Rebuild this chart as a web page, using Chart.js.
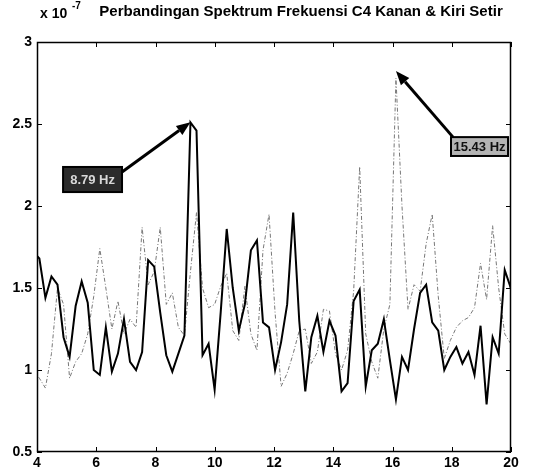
<!DOCTYPE html>
<html>
<head>
<meta charset="utf-8">
<style>
  html, body { margin: 0; padding: 0; background: #fff; }
  #wrap { width: 550px; height: 473px; position: relative; }
</style>
</head>
<body>
<div id="wrap"><canvas id="spektrum"></canvas></div>
<script src="https://cdn.jsdelivr.net/npm/chart.js@4"></script>
<script>
// FFT bins shown on the plot (bin 19 .. 99) and the bin width in Hz
const firstBin = 19;
const binHz = 0.204;

// magnitude in units of 1e-7, one value per bin
const spektrumKanan = [
  1.72, 1.68, 1.44, 1.57, 1.52, 1.20, 1.08, 1.39, 1.54, 1.41,
  1.00, 0.97, 1.26, 0.99, 1.10, 1.31, 1.05, 1.00, 1.11, 1.67,
  1.63, 1.35, 1.09, 0.99, 1.10, 1.21, 2.51, 2.46, 1.09, 1.16,
  0.88, 1.35, 1.86, 1.50, 1.24, 1.40, 1.73, 1.79, 1.29, 1.26,
  1.00, 1.17, 1.40, 1.96, 1.30, 0.87, 1.20, 1.33, 1.11, 1.30,
  1.21, 0.87, 0.92, 1.42, 1.49, 0.90, 1.12, 1.16, 1.31, 1.06,
  0.82, 1.08, 1.00, 1.25, 1.47, 1.52, 1.29, 1.24, 1.00, 1.08,
  1.14, 1.04, 1.11, 0.97, 1.27, 0.79, 1.20, 1.10, 1.61, 1.50,
  1.30
];
const spektrumKiri = [
  1.00, 0.95, 0.89, 1.10, 1.50, 1.40, 0.95, 1.05, 1.10, 1.22,
  1.45, 1.74, 1.50, 1.25, 1.42, 1.22, 1.31, 1.26, 1.87, 1.52,
  1.60, 1.87, 1.40, 1.47, 1.26, 1.21, 1.60, 1.96, 1.50, 1.38,
  1.40, 1.51, 1.59, 1.24, 1.18, 1.51, 1.22, 1.12, 1.73, 1.95,
  1.35, 0.90, 0.98, 1.10, 1.24, 1.25, 1.04, 1.11, 1.37, 1.36,
  1.10, 1.00, 1.12, 1.48, 2.24, 1.22, 1.05, 0.95, 1.25, 1.40,
  2.78, 2.00, 1.37, 1.52, 1.48, 1.77, 1.95, 1.45, 1.07, 1.18,
  1.26, 1.30, 1.32, 1.38, 1.65, 1.43, 1.88, 1.50, 1.22, 1.16,
  1.30
];

const xTicks = [4, 6, 8, 10, 12, 14, 16, 18, 20];
const yTicks = [0.5, 1, 1.5, 2, 2.5, 3];

const freq = spektrumKanan.map((_, i) => (firstBin + i) * binHz);
const toPoints = vals => vals.map((v, i) => ({ x: freq[i], y: v }));

// peak call-outs: box corners in data units, arrow tail on the box
const notes = [
  { text: '8.79 Hz', dataset: 0, bin: 45, box: [4.88, 6.87, 2.238, 2.085], tail: 'right', tipDy: 0, fill: '#2b2b2b', color: '#d8d8d8' },
  { text: '15.43 Hz', dataset: 1, bin: 79, box: [17.975, 19.9, 2.42, 2.305], tail: 'left', tipDy: -7, fill: '#b4b4b4', color: '#111' }
];

const font = "'Liberation Sans', Arial, Helvetica, sans-serif";

const matlabFrame = {
  id: 'matlabFrame',
  afterDatasetsDraw(chart) {
    const { ctx, chartArea: a, scales: { x, y } } = chart;
    ctx.save();
    ctx.strokeStyle = '#000';
    ctx.lineWidth = 1.5;
    ctx.strokeRect(a.left + 0.5, a.top + 0.5, a.right - a.left - 1, a.bottom - a.top - 1);
    ctx.lineWidth = 1;
    ctx.beginPath();
    xTicks.forEach(t => {
      const px = Math.round(x.getPixelForValue(t)) + 0.5;
      ctx.moveTo(px, a.bottom); ctx.lineTo(px, a.bottom - 5);
      ctx.moveTo(px, a.top); ctx.lineTo(px, a.top + 5);
    });
    yTicks.forEach(t => {
      const py = Math.round(y.getPixelForValue(t)) + 0.5;
      ctx.moveTo(a.left, py); ctx.lineTo(a.left + 5, py);
      ctx.moveTo(a.right, py); ctx.lineTo(a.right - 5, py);
    });
    ctx.stroke();

    // title and exponent
    ctx.fillStyle = '#000';
    ctx.textBaseline = 'alphabetic';
    ctx.textAlign = 'center';
    ctx.font = 'bold 15px ' + font;
    ctx.fillText('Perbandingan Spektrum Frekuensi C4 Kanan & Kiri Setir', 301, 16);
    ctx.textAlign = 'left';
    ctx.font = 'bold 14px ' + font;
    ctx.fillText('x 10', 40, 18);
    ctx.font = 'bold 10px ' + font;
    ctx.fillText('-7', 72, 9);

    // call-outs
    notes.forEach(n => {
      const pt = chart.data.datasets[n.dataset].data[n.bin - firstBin];
      const tipX = x.getPixelForValue(pt.x);
      const tipY = y.getPixelForValue(pt.y) + n.tipDy;
      const bx0 = x.getPixelForValue(n.box[0]);
      const bx1 = x.getPixelForValue(n.box[1]);
      const by0 = y.getPixelForValue(n.box[2]);
      const by1 = y.getPixelForValue(n.box[3]);
      const tx = n.tail === 'right' ? bx1 : bx0 + 2;
      const ty = n.tail === 'right' ? by0 + 5 : by0;

      const ang = Math.atan2(tipY - ty, tipX - tx);
      const head = 14, half = 5.5;
      const baseX = tipX - head * Math.cos(ang);
      const baseY = tipY - head * Math.sin(ang);
      ctx.strokeStyle = '#000';
      ctx.lineWidth = 3;
      ctx.beginPath();
      ctx.moveTo(tx, ty);
      ctx.lineTo(baseX, baseY);
      ctx.stroke();
      ctx.fillStyle = '#000';
      ctx.beginPath();
      ctx.moveTo(tipX, tipY);
      ctx.lineTo(baseX + half * Math.sin(ang), baseY - half * Math.cos(ang));
      ctx.lineTo(baseX - half * Math.sin(ang), baseY + half * Math.cos(ang));
      ctx.closePath();
      ctx.fill();

      ctx.fillStyle = n.fill;
      ctx.fillRect(bx0, by0, bx1 - bx0, by1 - by0);
      ctx.lineWidth = 2;
      ctx.strokeRect(bx0, by0, bx1 - bx0, by1 - by0);
      ctx.fillStyle = n.color;
      ctx.font = 'bold 13px ' + font;
      ctx.textAlign = 'center';
      ctx.textBaseline = 'middle';
      ctx.fillText(n.text, (bx0 + bx1) / 2, (by0 + by1) / 2 + 1);
    });
    ctx.restore();
  }
};

new Chart(document.getElementById('spektrum'), {
  type: 'line',
  data: {
    datasets: [
      {
        label: 'Kanan',
        data: toPoints(spektrumKanan),
        borderColor: '#000',
        borderWidth: 2,
        pointRadius: 0,
        tension: 0
      },
      {
        label: 'Kiri',
        data: toPoints(spektrumKiri),
        borderColor: '#777',
        borderWidth: 1,
        borderDash: [4, 2, 1, 2],
        pointRadius: 0,
        tension: 0
      }
    ]
  },
  options: {
    responsive: true,
    maintainAspectRatio: false,
    animation: false,
    layout: { padding: { top: 42, right: 39, bottom: 0, left: 0 } },
    plugins: {
      legend: { display: false },
      tooltip: { enabled: false }
    },
    scales: {
      x: {
        type: 'linear',
        min: 4,
        max: 20,
        afterFit: s => { s.height = 21; },
        afterBuildTicks: s => { s.ticks = xTicks.map(v => ({ value: v })); },
        grid: { display: false, drawTicks: false },
        border: { display: false },
        ticks: { color: '#000', padding: 3, maxRotation: 0, font: { family: font, size: 14, weight: 'bold' } }
      },
      y: {
        min: 0.5,
        max: 3,
        afterFit: s => { s.width = 37; },
        afterBuildTicks: s => { s.ticks = yTicks.map(v => ({ value: v })); },
        grid: { display: false, drawTicks: false },
        border: { display: false },
        ticks: {
          color: '#000',
          padding: 5,
          font: { family: font, size: 14, weight: 'bold' },
          callback: v => String(v)
        }
      }
    }
  },
  plugins: [matlabFrame]
});
</script>
</body>
</html>
